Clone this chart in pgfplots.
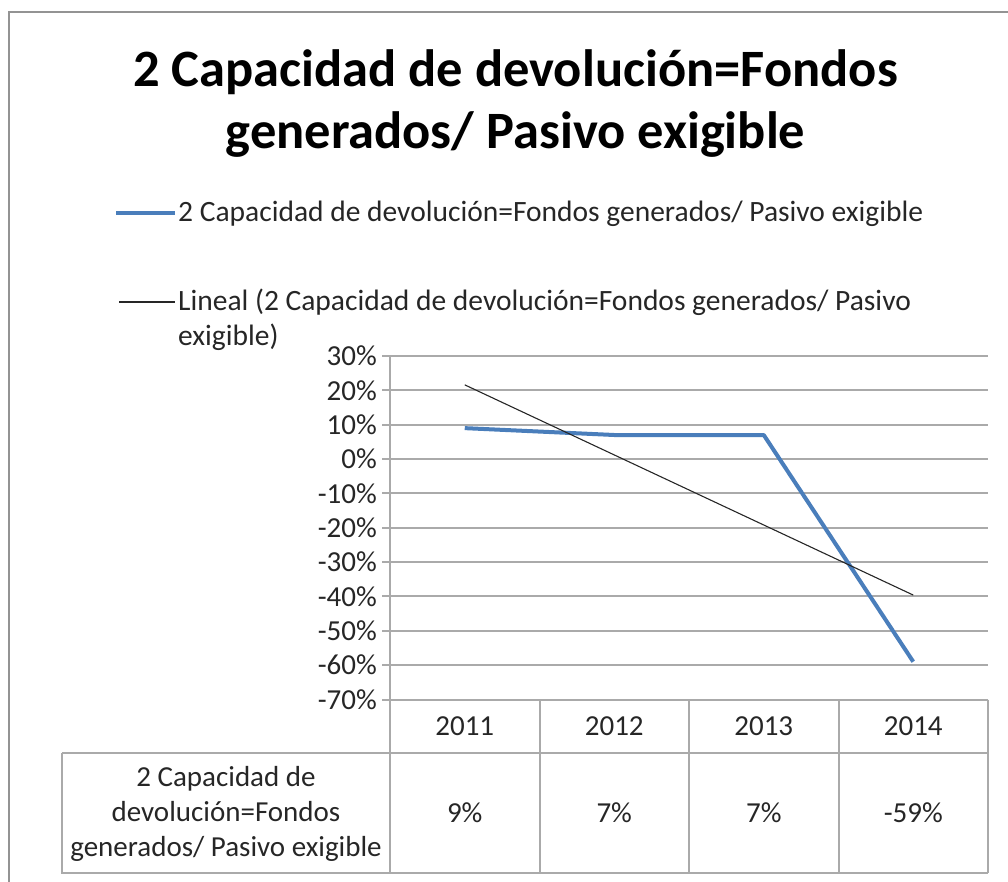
\documentclass[border=0pt]{standalone}
\usepackage{fontspec}
\setmainfont{Carlito}
\usepackage{pgfplots}
\pgfplotsset{compat=1.18}
\definecolor{excelblue}{HTML}{4A7EBB}
\definecolor{gridgray}{HTML}{AAAAAA}
\definecolor{txt}{HTML}{262626}
\newcommand{\sm}{\fontsize{29}{35.5}\selectfont}
\newcommand{\legfont}{\fontsize{29.5}{35.5}\selectfont}
\begin{document}
\begin{tikzpicture}
\path[use as bounding box] (0pt,0pt) rectangle (1008pt,-882pt);
% chart border
\draw[gray!85, line width=2pt] (9pt,-882pt) -- (9pt,-12.5pt) -- (1010pt,-12.5pt);
% title
\node[anchor=base, inner sep=0pt, font=\fontsize{52.5}{62}\selectfont\bfseries] at (515.5pt,-87pt) {2 Capacidad de devolución=Fondos};
\node[anchor=base, inner sep=0pt, font=\fontsize{52.5}{62}\selectfont\bfseries] at (515.5pt,-149pt) {generados/ Pasivo exigible};
% legend
\draw[excelblue, line width=4pt] (116pt,-213pt) -- (175pt,-213pt);
\node[anchor=base west, inner sep=0pt, font=\legfont, text=txt] at (178pt,-222pt) {2 Capacidad de devolución=Fondos generados/ Pasivo exigible};
\draw[black!85, line width=1.1pt] (119pt,-302pt) -- (175pt,-302pt);
\node[anchor=base west, inner sep=0pt, font=\legfont, text=txt] at (178pt,-310pt) {Lineal (2 Capacidad de devolución=Fondos generados/ Pasivo};
\node[anchor=base west, inner sep=0pt, font=\legfont, text=txt] at (178pt,-345pt) {exigible)};
\begin{axis}[
  at={(390pt,-699.5pt)}, anchor=south west,
  scale only axis, width=598pt, height=343.5pt,
  xmin=0.5, xmax=4.5, ymin=-70, ymax=30,
  axis lines=left, axis line style={-, draw=gridgray, line width=2pt},
  ytick={-70,-60,-50,-40,-30,-20,-10,0,10,20,30},
  yticklabels={-70\%,-60\%,-50\%,-40\%,-30\%,-20\%,-10\%,0\%,10\%,20\%,30\%},
  ymajorgrids, grid style={gridgray, line width=2pt},
  ytick style={draw=gridgray, line width=2pt},
  major tick length=8pt, tick align=outside,
  xtick={1,2,3,4}, xticklabels={2011,2012,2013,2014},
  xtick style={draw=none},
  ticklabel style={font=\sm, text=txt},
  yticklabel style={inner sep=0pt, xshift=-5pt},
  xticklabel style={anchor=base, inner sep=0pt, yshift=-28pt},
  clip=false,
]
\addplot[excelblue, line width=4pt, line join=round, mark=none] coordinates {(1,9) (2,7) (3,7) (4,-59)};
\addplot[black!85, line width=1.1pt, mark=none] coordinates {(1,21.6) (4,-39.6)};
\end{axis}
% data table
\draw[gridgray, line width=2pt] (62pt,-753pt) -- (988pt,-753pt);
\draw[gridgray, line width=2pt] (62pt,-753pt) -- (62pt,-873pt) -- (988pt,-873pt);
\foreach \xx in {390,539.5,689,838.5,988} {\draw[gridgray, line width=2pt] (\xx pt,-699.5pt) -- (\xx pt,-873pt);}
\node[anchor=base, inner sep=0pt, font=\sm, text=txt] at (226pt,-786pt) {2 Capacidad de};
\node[anchor=base, inner sep=0pt, font=\sm, text=txt] at (226pt,-821pt) {devolución=Fondos};
\node[anchor=base, inner sep=0pt, font=\sm, text=txt] at (226pt,-856pt) {generados/ Pasivo exigible};
\node[anchor=base, inner sep=0pt, font=\sm, text=txt] at (464.75pt,-822pt) {9\%};
\node[anchor=base, inner sep=0pt, font=\sm, text=txt] at (614.25pt,-822pt) {7\%};
\node[anchor=base, inner sep=0pt, font=\sm, text=txt] at (763.75pt,-822pt) {7\%};
\node[anchor=base, inner sep=0pt, font=\sm, text=txt] at (913.25pt,-822pt) {-59\%};
\end{tikzpicture}
\end{document}
